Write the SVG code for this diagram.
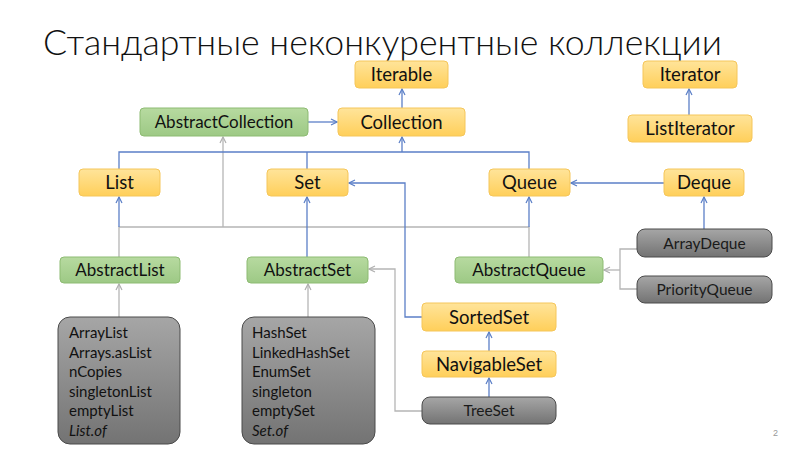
<svg xmlns="http://www.w3.org/2000/svg" width="786" height="450" viewBox="0 0 786 450">
  <defs>
    <linearGradient id="gYellow" x1="0" y1="0" x2="0" y2="1">
      <stop offset="0" stop-color="#FFE49A"/>
      <stop offset="1" stop-color="#FFCF5A"/>
    </linearGradient>
    <linearGradient id="gGreen" x1="0" y1="0" x2="0" y2="1">
      <stop offset="0" stop-color="#B7DAA0"/>
      <stop offset="1" stop-color="#9DC985"/>
    </linearGradient>
    <linearGradient id="gGray" x1="0" y1="0" x2="0" y2="1">
      <stop offset="0" stop-color="#A6A6A6"/>
      <stop offset="1" stop-color="#737373"/>
    </linearGradient>
    <marker id="arrBlue" viewBox="0 0 8 8" refX="7" refY="4" markerWidth="8" markerHeight="8" markerUnits="userSpaceOnUse" orient="auto">
      <path d="M1,1 L7,4 L1,7" fill="none" stroke="#5B7FC7" stroke-width="1.2"/>
    </marker>
    <marker id="arrGray" viewBox="0 0 8 8" refX="7" refY="4" markerWidth="8" markerHeight="8" markerUnits="userSpaceOnUse" orient="auto">
      <path d="M1,1 L7,4 L1,7" fill="none" stroke="#B0B0B0" stroke-width="1.2"/>
    </marker>
  </defs>
  <style>
    .title { font-family: Lato, "Liberation Sans", sans-serif; font-weight: 300; font-size: 35px; fill: #111; }
    .lbl { font-family: Lato, "Liberation Sans", sans-serif; font-size: 18.5px; fill: #111; text-anchor: middle; }
    .lbl-s { font-family: Lato, "Liberation Sans", sans-serif; font-size: 17px; fill: #111; text-anchor: middle; }
    .lbl-g { font-family: Lato, "Liberation Sans", sans-serif; font-size: 15.5px; fill: #1a1a1a; text-anchor: middle; }
    .impl { font-family: Lato, "Liberation Sans", sans-serif; font-size: 15px; fill: #111; }
    .yellow { fill: url(#gYellow); stroke: #F5C65A; stroke-width: 1; }
    .green { fill: url(#gGreen); stroke: #8DBB72; stroke-width: 1; }
    .gray { fill: url(#gGray); stroke: #4A4A4A; stroke-width: 1; }
    .blue { fill: none; stroke: #5B7FC7; stroke-width: 1.3; }
    .grayline { fill: none; stroke: #B5B5B5; stroke-width: 1.3; }
    .page { font-family: "Liberation Sans", sans-serif; font-size: 9px; fill: #999; }
  </style>
  <rect width="786" height="450" fill="#fff"/>

  <text class="title" x="43" y="55" textLength="679" lengthAdjust="spacingAndGlyphs">Стандартные неконкурентные коллекции</text>

  <!-- connectors -->
  <g id="connectors">
    <!-- gray: extends AbstractCollection -->
    <polyline class="grayline" points="119,257 119,227 529,227 529,257"/>
    <line class="grayline" x1="223" y1="227" x2="223" y2="137" marker-end="url(#arrGray)"/>
    <!-- gray: implementations -->
    <line class="grayline" x1="119" y1="317" x2="119" y2="284" marker-end="url(#arrGray)"/>
    <line class="grayline" x1="308" y1="317" x2="308" y2="284" marker-end="url(#arrGray)"/>
    <polyline class="grayline" points="422,411 395,411 395,269 369,269" marker-end="url(#arrGray)"/>
    <polyline class="grayline" points="637,249 620,249 620,289 637,289"/>
    <line class="grayline" x1="620" y1="270" x2="604" y2="270" marker-end="url(#arrGray)"/>

    <!-- blue: interfaces -->
    <line class="blue" x1="308" y1="122" x2="337" y2="122" marker-end="url(#arrBlue)"/>
    <line class="blue" x1="402" y1="108" x2="402" y2="89" marker-end="url(#arrBlue)"/>
    <line class="blue" x1="689" y1="115" x2="689" y2="89" marker-end="url(#arrBlue)"/>
    <polyline class="blue" points="119,169 119,152 529,152 529,169"/>
    <line class="blue" x1="307" y1="169" x2="307" y2="152"/>
    <line class="blue" x1="402" y1="152" x2="402" y2="137" marker-end="url(#arrBlue)"/>
    <line class="blue" x1="119" y1="227" x2="119" y2="197" marker-end="url(#arrBlue)"/>
    <line class="blue" x1="307" y1="257" x2="307" y2="197" marker-end="url(#arrBlue)"/>
    <line class="blue" x1="529" y1="227" x2="529" y2="197" marker-end="url(#arrBlue)"/>
    <line class="blue" x1="664" y1="183" x2="571" y2="183" marker-end="url(#arrBlue)"/>
    <line class="blue" x1="704" y1="229" x2="704" y2="197" marker-end="url(#arrBlue)"/>
    <polyline class="blue" points="422,317 405,317 405,183 349,183" marker-end="url(#arrBlue)"/>
    <line class="blue" x1="489" y1="351" x2="489" y2="332" marker-end="url(#arrBlue)"/>
    <line class="blue" x1="489" y1="397" x2="489" y2="378" marker-end="url(#arrBlue)"/>
  </g>

  <!-- interfaces -->
  <g id="iterable"><rect class="yellow" x="355" y="61" width="93" height="27" rx="4"/><text class="lbl" x="401.5" y="81">Iterable</text></g>
  <g id="collection"><rect class="yellow" x="338" y="108" width="127" height="28" rx="4"/><text class="lbl" x="401.5" y="128.5">Collection</text></g>
  <g id="iterator"><rect class="yellow" x="643" y="61" width="94" height="27" rx="4"/><text class="lbl" x="690" y="81">Iterator</text></g>
  <g id="listiterator"><rect class="yellow" x="628" y="115" width="124" height="27" rx="4"/><text class="lbl" x="690" y="135">ListIterator</text></g>
  <g id="list"><rect class="yellow" x="79" y="169" width="81" height="27" rx="4"/><text class="lbl" x="119.5" y="189">List</text></g>
  <g id="set"><rect class="yellow" x="267" y="169" width="81" height="27" rx="4"/><text class="lbl" x="307.5" y="189">Set</text></g>
  <g id="queue"><rect class="yellow" x="489" y="169" width="81" height="27" rx="4"/><text class="lbl" x="529.5" y="189">Queue</text></g>
  <g id="deque"><rect class="yellow" x="664" y="169" width="80" height="27" rx="4"/><text class="lbl" x="704" y="189">Deque</text></g>
  <g id="sortedset"><rect class="yellow" x="422" y="303" width="134" height="28" rx="4"/><text class="lbl" x="489" y="323.5">SortedSet</text></g>
  <g id="navigableset"><rect class="yellow" x="422" y="351" width="134" height="26" rx="4"/><text class="lbl" x="489" y="370.5">NavigableSet</text></g>

  <!-- abstract classes -->
  <g id="abstractcollection"><rect class="green" x="140" y="108" width="168" height="28" rx="4"/><text class="lbl-s" x="224" y="128">AbstractCollection</text></g>
  <g id="abstractlist"><rect class="green" x="60" y="257" width="120" height="26" rx="4"/><text class="lbl-s" x="120" y="276">AbstractList</text></g>
  <g id="abstractset"><rect class="green" x="247" y="257" width="121" height="26" rx="4"/><text class="lbl-s" x="307.5" y="276">AbstractSet</text></g>
  <g id="abstractqueue"><rect class="green" x="455" y="257" width="148" height="26" rx="4"/><text class="lbl-s" x="529" y="276">AbstractQueue</text></g>

  <!-- implementations -->
  <g id="arraydeque"><rect class="gray" x="637" y="229" width="135" height="28" rx="8"/><text class="lbl-g" x="704.5" y="248.5">ArrayDeque</text></g>
  <g id="priorityqueue"><rect class="gray" x="637" y="276" width="135" height="27" rx="8"/><text class="lbl-g" x="704.5" y="295">PriorityQueue</text></g>
  <g id="treeset"><rect class="gray" x="422" y="397" width="134" height="27" rx="8"/><text class="lbl-g" x="489" y="416">TreeSet</text></g>

  <g id="list-impls">
    <rect class="gray" x="58" y="317" width="122" height="127" rx="12"/>
    <text class="impl" x="69" y="338">ArrayList</text>
    <text class="impl" x="69" y="357.5">Arrays.asList</text>
    <text class="impl" x="69" y="377">nCopies</text>
    <text class="impl" x="69" y="396.5">singletonList</text>
    <text class="impl" x="69" y="416">emptyList</text>
    <text class="impl" x="69" y="435.5" font-style="italic">List.of</text>
  </g>
  <g id="set-impls">
    <rect class="gray" x="242" y="317" width="133" height="127" rx="12"/>
    <text class="impl" x="252" y="338">HashSet</text>
    <text class="impl" x="252" y="357.5">LinkedHashSet</text>
    <text class="impl" x="252" y="377">EnumSet</text>
    <text class="impl" x="252" y="396.5">singleton</text>
    <text class="impl" x="252" y="416">emptySet</text>
    <text class="impl" x="252" y="435.5" font-style="italic">Set.of</text>
  </g>

  <text class="page" x="773" y="436">2</text>
</svg>
